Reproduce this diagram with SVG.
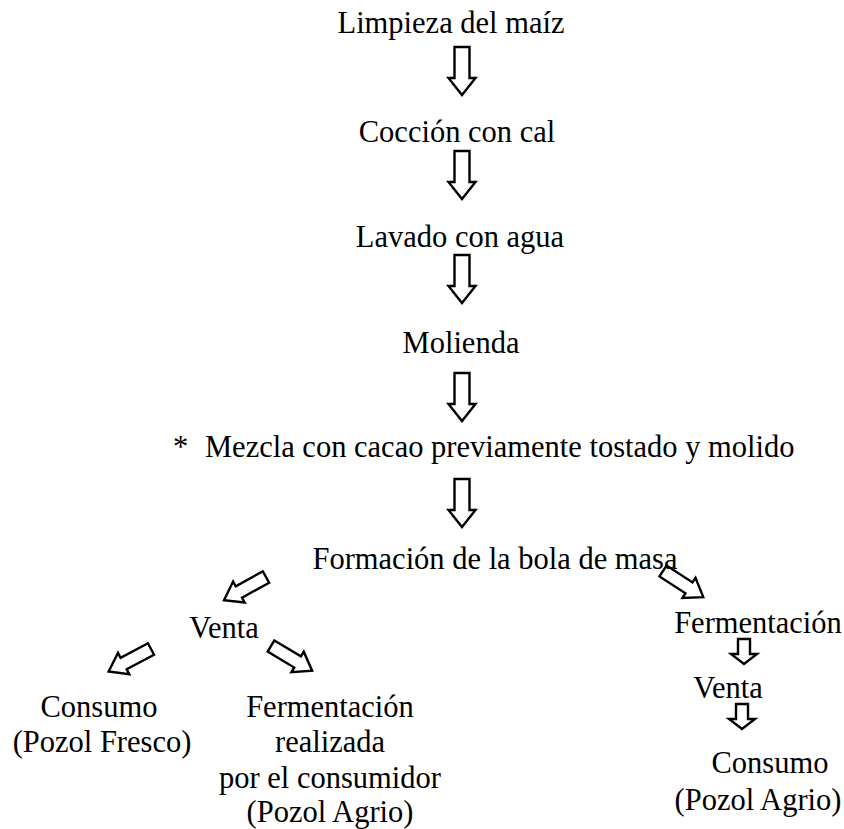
<svg xmlns="http://www.w3.org/2000/svg" xmlns:xlink="http://www.w3.org/1999/xlink" width="844" height="829" viewBox="0 0 844 829">
<style>
.t { font-family: 'Liberation Serif', 'Times New Roman', serif; font-size: 30.5px; fill: #000; text-anchor: middle; }
.arr { fill: #fff; stroke: #000; stroke-width: 2.4; stroke-linejoin: miter; }
</style>
<defs>
<path id="bigArrow" class="arr" d="M-7.5,0 V31 H-13.5 L0,48 L13.5,31 H7.5 V0 Z"/>
<path id="smallArrow" class="arr" d="M-6,0 V15 H-13 L0,25 L13,15 H6 V0 Z"/>
<path id="diagArrow" class="arr" d="M0,-6.5 H31 V-12 L48,0 L31,12 V6.5 H0 Z"/>
</defs>
<rect width="844" height="829" fill="#fff"/>
<g id="connectors">
<use xlink:href="#bigArrow" transform="translate(462,47)"/>
<use xlink:href="#bigArrow" transform="translate(462,151)"/>
<use xlink:href="#bigArrow" transform="translate(462,255)"/>
<use xlink:href="#bigArrow" transform="translate(462,373)"/>
<use xlink:href="#bigArrow" transform="translate(462,479)"/>
<use xlink:href="#diagArrow" transform="translate(266,577) rotate(151)"/>
<use xlink:href="#diagArrow" transform="translate(663,571) rotate(33)"/>
<use xlink:href="#diagArrow" transform="translate(151,649) rotate(152)"/>
<use xlink:href="#diagArrow" transform="translate(271,646) rotate(31)"/>
<use xlink:href="#smallArrow" transform="translate(744,639)"/>
<use xlink:href="#smallArrow" transform="translate(742,704)"/>
</g>
<g class="t">
<g id="n1"><text x="451" y="33">Limpieza del maíz</text></g>
<g id="n2"><text x="457" y="142">Cocción con cal</text></g>
<g id="n3"><text x="460" y="247">Lavado con agua</text></g>
<g id="n4"><text x="461" y="353">Molienda</text></g>
<g id="n5"><text x="173" y="457" text-anchor="start">*<tspan x="205">Mezcla con cacao previamente tostado y molido</tspan></text></g>
<g id="n6"><text x="495" y="569">Formación de la bola de masa</text></g>
<g id="n7"><text x="224" y="638">Venta</text></g>
<g id="n8"><text x="99" y="717">Consumo</text><text x="102" y="752">(Pozol Fresco)</text></g>
<g id="n9"><text x="330" y="717">Fermentación</text><text x="330" y="752">realizada</text><text x="330" y="788">por el consumidor</text><text x="330" y="822">(Pozol Agrio)</text></g>
<g id="n10"><text x="758" y="633">Fermentación</text></g>
<g id="n11"><text x="728" y="698">Venta</text></g>
<g id="n12"><text x="770" y="773">Consumo</text><text x="758" y="810">(Pozol Agrio)</text></g>
</g>
</svg>
